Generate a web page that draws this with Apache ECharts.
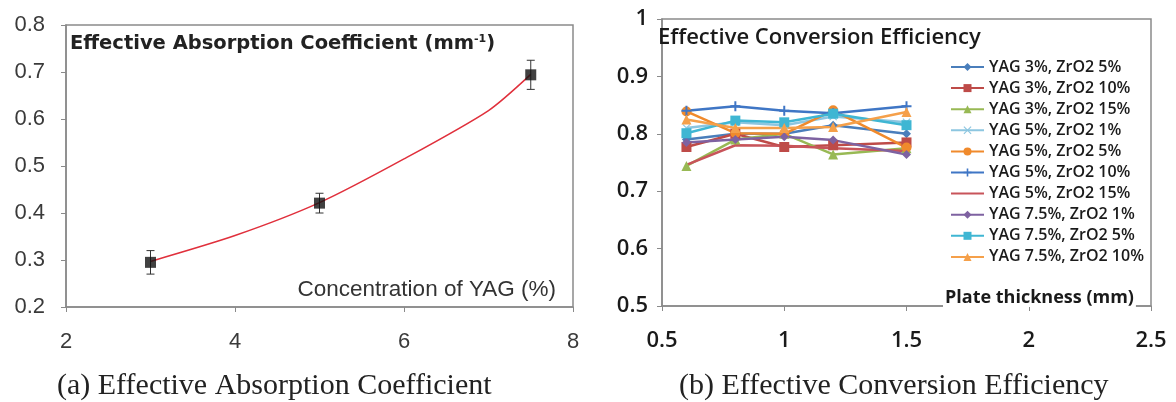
<!DOCTYPE html>
<html><head><meta charset="utf-8">
<script src="https://cdn.jsdelivr.net/npm/echarts@6/dist/echarts.min.js"></script>
<style>html,body{margin:0;padding:0;background:#fff}#c{width:1176px;height:402px}</style>
</head><body><div id="c"></div>
<script>
// ---------- Panel (a): Effective Absorption Coefficient ----------
const yagConc = [3, 5, 7.5];
const absCoef = [0.295, 0.421, 0.694];
const absErr = [0.025, 0.021, 0.031];
// trend curve
const fitX = [3, 4, 5, 6, 7, 7.5];
const fitY = [0.297, 0.352, 0.422, 0.515, 0.618, 0.695];
const aXTicks = [2, 8, 2];      // min, max, interval
const aYTicks = [0.2, 0.8, 0.1];

// ---------- Panel (b): Effective Conversion Efficiency ----------
const thickness = [0.6, 0.8, 1.0, 1.2, 1.5];
const names = ['YAG 3%, ZrO2 5%', 'YAG 3%, ZrO2 10%', 'YAG 3%, ZrO2 15%', 'YAG 5%, ZrO2 1%', 'YAG 5%, ZrO2 5%',
  'YAG 5%, ZrO2 10%', 'YAG 5%, ZrO2 15%', 'YAG 7.5%, ZrO2 1%', 'YAG 7.5%, ZrO2 5%', 'YAG 7.5%, ZrO2 10%'];
const effY3Z5 = [0.790, 0.800, 0.800, 0.815, 0.800];
const effY3Z10 = [0.777, 0.800, 0.777, 0.780, 0.785];
const effY3Z15 = [0.744, 0.790, 0.800, 0.764, 0.775];
const effY5Z1 = [0.810, 0.820, 0.815, 0.830, 0.820];
const effY5Z5 = [0.839, 0.801, 0.800, 0.841, 0.776];
const effY5Z10 = [0.840, 0.848, 0.840, 0.836, 0.848];
const effY5Z15 = [0.746, 0.780, 0.779, 0.775, 0.770];
const effY75Z1 = [0.785, 0.790, 0.795, 0.789, 0.764];
const effY75Z5 = [0.801, 0.823, 0.820, 0.835, 0.815];
const effY75Z10 = [0.825, 0.810, 0.810, 0.812, 0.838];
const bXTicks = [0.5, 2.5, 0.5];
const bYTicks = [0.5, 1, 0.1];

const effSeries = [effY3Z5, effY3Z10, effY3Z15, effY5Z1, effY5Z5, effY5Z10, effY5Z15, effY75Z1, effY75Z5, effY75Z10];
const colors = ['#4A7EBB', '#BE4B48', '#98B954', '#8DC6E0', '#F08A2C', '#3F76C5', '#C8545A', '#7E62A1', '#3FB6D3', '#F5A04A'];
const PLUS = 'path://M4,0h2v4h4v2h-4v4h-2v-4h-4v-2h4z';
const CROSS = 'path://M1,0L5,4L9,0L10,1L6,5L10,9L9,10L5,6L1,10L0,9L4,5L0,1z';
const symbols = ['diamond', 'rect', 'triangle', CROSS, 'circle', PLUS, 'circle', 'diamond', 'rect', 'triangle'];
const symSizes = [9, 10, 10, 8, 10, 10, 8, 9, 10, 10];
const showSym = [true, true, true, true, true, true, false, true, true, true];

const chart = echarts.init(document.getElementById('c'), null, {renderer: 'canvas'});

const sansA = 'Liberation Sans, Arial, sans-serif';
const sansW = 'DejaVu Sans, Verdana, sans-serif';
const sansB = 'Open Sans, sans-serif';
const serif = 'Liberation Serif, Times New Roman, serif';

function axisCommon(font, weight, color, size, margin) {
  return {
    axisLine: {show: true, onZero: false, lineStyle: {color: '#8a8a8a', width: 1.5}},
    axisTick: {show: true, length: 5, lineStyle: {color: '#8a8a8a'}},
    splitLine: {show: false},
    axisLabel: {fontFamily: font, fontWeight: weight, color: color, fontSize: size, margin: margin}
  };
}

const series = [
  {
    type: 'line', xAxisIndex: 0, yAxisIndex: 0, smooth: 0.25, symbol: 'none',
    data: fitX.map((x, i) => [x, fitY[i]]),
    lineStyle: {color: '#E0303C', width: 1.5}, z: 2, silent: true
  },
  {
    type: 'custom', xAxisIndex: 0, yAxisIndex: 0, z: 3,
    data: yagConc.map((x, i) => [x, absCoef[i] - absErr[i], absCoef[i] + absErr[i]]),
    renderItem(params, api) {
      const lo = api.coord([api.value(0), api.value(1)]);
      const hi = api.coord([api.value(0), api.value(2)]);
      const w = 4, st = {stroke: '#333', lineWidth: 1};
      return {type: 'group', children: [
        {type: 'line', shape: {x1: lo[0], y1: lo[1], x2: hi[0], y2: hi[1]}, style: st},
        {type: 'line', shape: {x1: lo[0] - w, y1: lo[1], x2: lo[0] + w, y2: lo[1]}, style: st},
        {type: 'line', shape: {x1: hi[0] - w, y1: hi[1], x2: hi[0] + w, y2: hi[1]}, style: st}
      ]};
    }
  },
  {
    type: 'scatter', xAxisIndex: 0, yAxisIndex: 0, symbol: 'rect', symbolSize: 11, z: 4,
    data: yagConc.map((x, i) => [x, absCoef[i]]),
    itemStyle: {color: '#111'}
  }
];

effSeries.forEach((arr, k) => {
  series.push({
    name: names[k], type: 'line', xAxisIndex: 1, yAxisIndex: 1,
    data: thickness.map((t, i) => [t, arr[i]]),
    symbol: symbols[k], symbolSize: symSizes[k], showSymbol: showSym[k],
    lineStyle: {color: colors[k], width: 2.5},
    itemStyle: {color: showSym[k] ? colors[k] : 'rgba(0,0,0,0)', borderWidth: 0}
  });
});

chart.setOption({
  backgroundColor: '#fff',
  animation: false,
  grid: [
    {left: 66, top: 25, width: 507, height: 282, show: true, borderColor: '#8a8a8a', borderWidth: 1.5, containLabel: false},
    {left: 662, top: 19, width: 489, height: 287, show: true, borderColor: '#8a8a8a', borderWidth: 1.5, containLabel: false}
  ],
  xAxis: [
    Object.assign({type: 'value', gridIndex: 0, min: aXTicks[0], max: aXTicks[1], interval: aXTicks[2]}, axisCommon(sansA, 'normal', '#3a3a3a', 22, 24)),
    Object.assign({type: 'value', gridIndex: 1, min: bXTicks[0], max: bXTicks[1], interval: bXTicks[2]}, axisCommon(sansB, 600, '#1a1a1a', 22, 24))
  ],
  yAxis: [
    Object.assign({type: 'value', gridIndex: 0, min: aYTicks[0], max: aYTicks[1], interval: aYTicks[2]}, axisCommon(sansA, 'normal', '#3a3a3a', 22, 21)),
    Object.assign({type: 'value', gridIndex: 1, min: bYTicks[0], max: bYTicks[1], interval: bYTicks[2]}, axisCommon(sansB, 600, '#1a1a1a', 22, 14))
  ],
  legend: {
    data: names, orient: 'vertical', left: 950, top: 58.5, padding: 0,
    itemWidth: 33, itemHeight: 10, itemGap: 4.1,
    textStyle: {fontFamily: sansB, fontWeight: 600, fontSize: 16, color: '#1a1a1a', lineHeight: 17},
    selectedMode: false
  },
  graphic: [
    {type: 'text', left: 70, top: 34, z: 10, style: {
      text: '{t|Effective Absorption Coefficient (mm}{s|-1}{t|)}',
      rich: {t: {fontFamily: sansW, fontWeight: 'bold', fontSize: 19.5, fill: '#222'},
             s: {fontFamily: sansW, fontWeight: 'bold', fontSize: 11, fill: '#222', verticalAlign: 'top', padding: [0, 0, 9, 0]}}
    }},
    {type: 'text', right: 1176 - 556, top: 278, z: 10, style: {
      text: 'Concentration of YAG (%)', fontFamily: sansA, fontSize: 22.5, fill: '#333'
    }},
    {type: 'text', left: 57, top: 371, z: 10, style: {
      text: '(a) Effective Absorption Coefficient', fontFamily: serif, fontSize: 30, fill: '#222'
    }},
    {type: 'text', left: 658, top: 27, z: 10, style: {
      text: 'Effective Conversion Efficiency', fontFamily: sansB, fontWeight: 600, fontSize: 22, fill: '#1a1a1a'
    }},
    {type: 'text', left: 943, top: 289, z: 10, style: {
      text: 'Plate thickness (mm)', fontFamily: sansB, fontWeight: 'bold', fontSize: 18, fill: '#1a1a1a',
      backgroundColor: '#fff', padding: [0, 2, 0, 2]
    }},
    {type: 'text', left: 679, top: 371, z: 10, style: {
      text: '(b) Effective Conversion Efficiency', fontFamily: serif, fontSize: 30, fill: '#222'
    }}
  ],
  series: series
});
</script></body></html>
